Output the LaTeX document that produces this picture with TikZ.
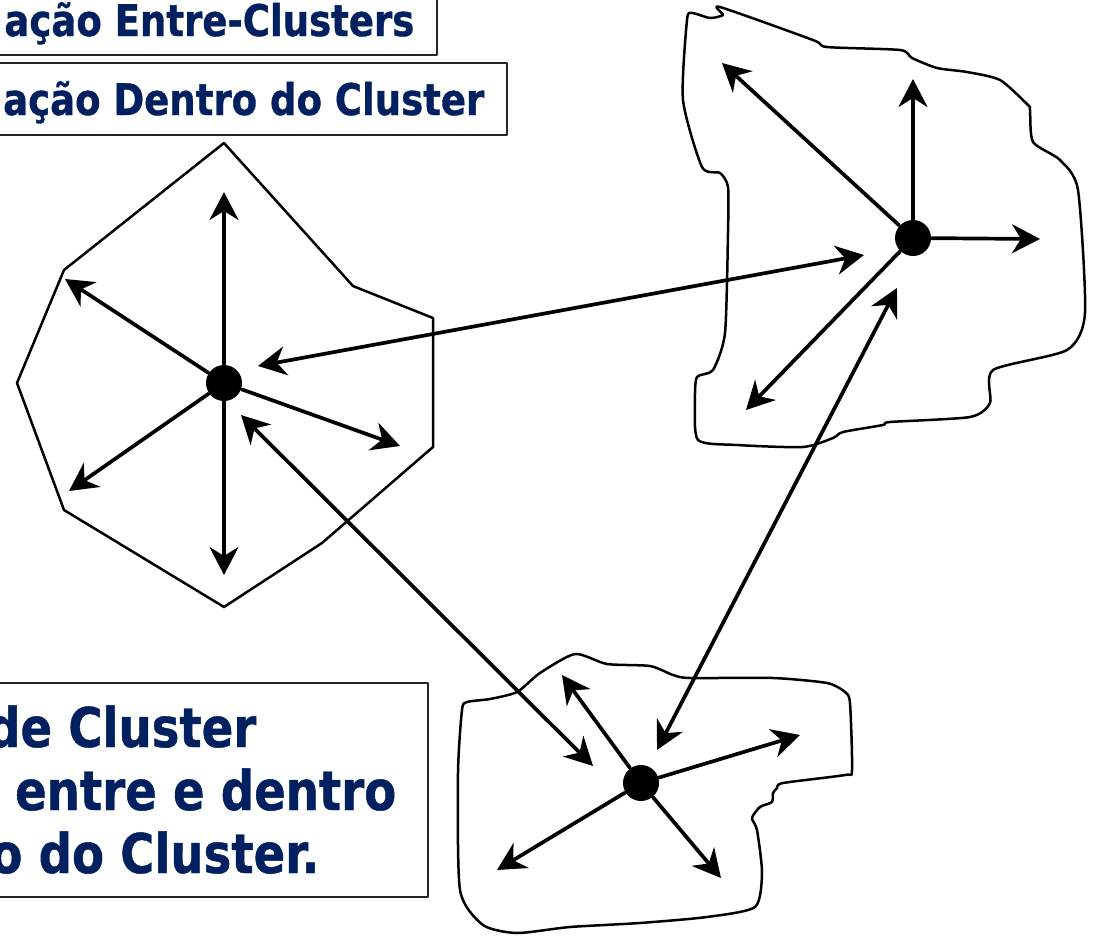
\documentclass[tikz,border=0pt]{standalone}
\usepackage{fontspec}
\usetikzlibrary{arrows.meta}
\newfontfamily\slidefont{DejaVu Sans}[FakeStretch=0.85, FakeBold=0.8]
\definecolor{titleblue}{RGB}{0,32,96}

\begin{document}
\begin{tikzpicture}[x=0.1mm, y=-0.1mm, >={Stealth[length=2.8mm, width=2.9mm, inset=0.9mm]}, line join=round, line cap=round,
	hub/.style={circle, fill, inner sep=0pt, minimum size=3.6mm},
	spoke/.style={->, line width=0.37mm},
	link/.style={<->, line width=0.37mm},
	rim/.style={line width=0.25mm},
	frame/.style={draw=black!85, line width=0.25mm, fill=white},
	title/.style={text=titleblue, font=\slidefont\bfseries\fontsize{12.4}{15}\selectfont, inner sep=0pt, anchor=base east},
	note/.style={title, font=\slidefont\bfseries\fontsize{15.6}{19}\selectfont}]
	\useasboundingbox (0,0) rectangle (1095,937);
	\clip (0,0) rectangle (1095,937);
	% caixas de texto
	\draw[frame] (-20,-20) rectangle (437,55);
	\node[title] (tEntre) at (415,36) {ação Entre-Clusters};
	\draw[frame] (-20,63) rectangle (507,135);
	\node[title] (tDentro) at (485,115) {ação Dentro do Cluster};
	\draw[frame] (-20,683) rectangle (428,897);
	\node[note] (nUm) at (257,747) {de Cluster};
	\node[note] (nDois) at (397,810) {entre e dentro};
	\node[note] (nTres) at (320,873) {o do Cluster.};
	% clusters
	\draw[rim] (224,143) -- (353,286) -- (433,318) -- (433,447) -- (322,543) -- (224,607) -- (64,510) -- (17,383) -- (64,270) -- cycle;
	\draw[rim] plot[smooth cycle, tension=0.4] coordinates {(720,7) (723,15) (710,18) (692,13) (687,20) (683,100) (702,167) (720,173) (728,187) (728,233) (725,333) (713,370) (697,377) (695,400) (698,440) (737,445) (803,447) (833,438) (843,432) (883,425) (890,422) (970,417) (990,403) (993,370) (1067,350) (1085,313) (1078,190) (1060,160) (1033,142) (1030,110) (1028,105) (1000,80) (967,72) (937,68) (912,58) (900,50) (827,47) (813,40)};
	\draw[rim] plot[smooth cycle, tension=0.4] coordinates {(575,654) (540,673) (517,692) (490,699) (467,702) (462,710) (458,773) (460,890) (483,925) (517,933) (570,927) (640,923) (707,917) (755,907) (762,873) (757,830) (752,818) (760,807) (772,802) (773,793) (777,788) (783,783) (845,775) (852,770) (850,703) (845,692) (827,683) (773,678) (690,678) (673,675) (650,666) (607,664)};
	% cabecas
	\node[hub] (hubA) at (224,383) {};
	\node[hub] (hubB) at (913,238) {};
	\node[hub] (hubC) at (641,783) {};
	\coordinate (a1) at (224,192);
	\coordinate (a2) at (65,279);
	\coordinate (a3) at (69,491);
	\coordinate (a4) at (224,575);
	\coordinate (a5) at (400,446);
	\coordinate (b1) at (913,79);
	\coordinate (b2) at (1040,239);
	\coordinate (b3) at (722,63);
	\coordinate (b4) at (746,410);
	\coordinate (c1) at (562,675);
	\coordinate (c2) at (800,735);
	\coordinate (c3) at (497,870);
	\coordinate (c4) at (721,878);
	\foreach \i in {1,...,5} \draw[spoke] (hubA) -- (a\i);
	\foreach \i in {1,...,4} \draw[spoke] (hubB) -- (b\i);
	\foreach \i in {1,...,4} \draw[spoke] (hubC) -- (c\i);
	% ligacoes entre clusters
	\coordinate (ab1) at (258,366);
	\coordinate (ab2) at (864,255);
	\coordinate (ac1) at (241,415);
	\coordinate (ac2) at (593,766);
	\coordinate (bc1) at (897,288);
	\coordinate (bc2) at (657,750);
	\draw[link] (ab1) -- (ab2);
	\draw[link] (ac1) -- (ac2);
	\draw[link] (bc1) -- (bc2);
\end{tikzpicture}
\end{document}
